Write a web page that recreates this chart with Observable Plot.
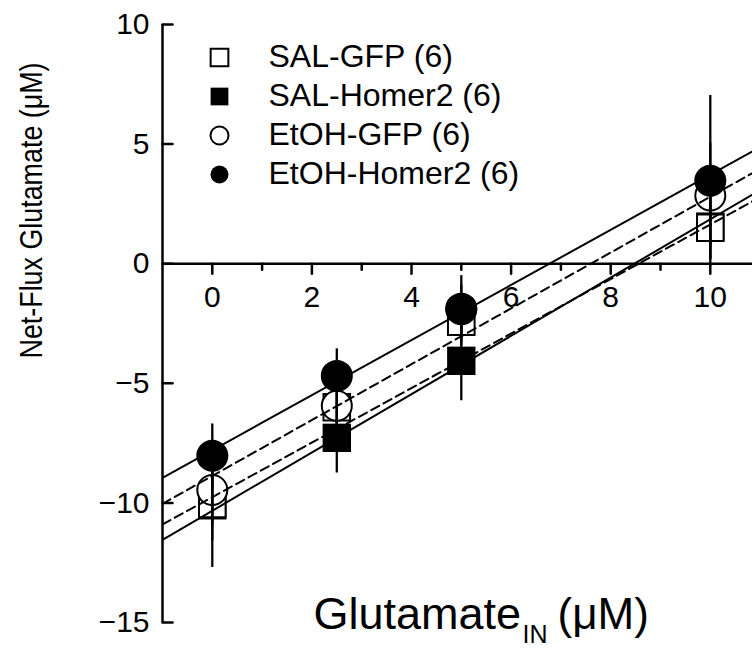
<!DOCTYPE html>
<html><head><meta charset="utf-8">
<script src="https://cdn.jsdelivr.net/npm/d3@7"></script>
<script src="https://cdn.jsdelivr.net/npm/@observablehq/plot@0.6"></script>
<style>body{margin:0;background:#fff}</style>
</head><body><div id="chart"></div>
<script>
// ---- data ----
const glutamateIn = [0, 2.5, 5, 10];
const seriesNames = ["SAL-GFP", "SAL-Homer2", "EtOH-GFP", "EtOH-Homer2"];
const seriesN = [6, 6, 6, 6];
const salGfp = [-10.04, -6.0, -2.43, 1.5];
const salGfpSE = [2.66, 1.2, 1.0, 1.3];
const salHomer2 = [-10.1, -7.28, -4.06, 1.55];
const salHomer2SE = [1.5, 1.47, 1.67, 1.4];
const etohGfp = [-9.46, -5.94, -1.9, 2.85];
const etohGfpSE = [1.5, 1.0, 1.0, 2.2];
const etohHomer2 = [-8.03, -4.69, -1.88, 3.47];
const etohHomer2SE = [1.33, 1.13, 1.38, 3.56];
const fitIntercept = [-9.76, -10.33, -8.87, -7.80];
const fitSlope = [1.14, 1.219, 1.167, 1.152];
const yTicks = [-15, -10, -5, 0, 5, 10];
const xTicksMajor = [0, 2, 4, 6, 8, 10];
const xTicksMinor = [1, 3, 5, 7, 9, 11];
const xDomain = [-1, 11];
const yDomain = [-15, 10];
const xAxisAt = 0;

// ---- build tables ----
const values = [salGfp, salHomer2, etohGfp, etohHomer2];
const ses = [salGfpSE, salHomer2SE, etohGfpSE, etohHomer2SE];
const styles = {
  "SAL-GFP": {symbol: "square", fill: "white", dash: "9,5"},
  "SAL-Homer2": {symbol: "square", fill: "black", dash: null},
  "EtOH-GFP": {symbol: "circle", fill: "white", dash: "9,5"},
  "EtOH-Homer2": {symbol: "circle", fill: "black", dash: null}
};
const points = [];
seriesNames.forEach((s, i) => glutamateIn.forEach((x, j) => points.push({series: s, x, y: values[i][j], se: ses[i][j]})));
const drawOrder = ["SAL-Homer2", "SAL-GFP", "EtOH-GFP", "EtOH-Homer2"];

const tickShape = {draw(context, l) { context.moveTo(0, 0); context.lineTo(0, -l); }};
const font = "'Liberation Sans', Arial, sans-serif";
const narrowFont = "'Liberation Sans Narrow', 'Arial Narrow', 'Liberation Sans', Arial, sans-serif";
const fmt = d => String(d).replace("-", "\u2212");
const yTitle = "Net-Flux Glutamate (\u03BCM)";

const marks = [];
// axes lines
marks.push(Plot.ruleX([xDomain[0]], {y1: yDomain[0], y2: yDomain[1], strokeWidth: 2.5}));
marks.push(Plot.ruleY([xAxisAt], {x1: xDomain[0], x2: xDomain[1], strokeWidth: 2.5, clip: true}));
// y ticks (inward) and labels
marks.push(Plot.vector(yTicks, {x: xDomain[0], y: d => d, length: 10, rotate: 90, anchor: "start", shape: tickShape, strokeWidth: 2.5}));
marks.push(Plot.text(yTicks, {frameAnchor: "left", y: d => d, text: fmt, textAnchor: "end", lineAnchor: "middle", dx: -13, fontSize: 30}));
// x ticks and labels
marks.push(Plot.vector(xTicksMajor, {x: d => d, y: xAxisAt, length: 10, rotate: 180, anchor: "start", shape: tickShape, strokeWidth: 2.5}));
marks.push(Plot.vector(xTicksMinor, {x: d => d, y: xAxisAt, length: 6, rotate: 180, anchor: "start", shape: tickShape, strokeWidth: 2.5, clip: true}));
marks.push(Plot.text(xTicksMajor, {x: d => d, y: xAxisAt, text: fmt, lineAnchor: "top", dy: 22, fontSize: 30}));

// symbols
for (const s of drawOrder) {
  const st = styles[s];
  const data = points.filter(p => p.series === s);
  marks.push(Plot.dot(data, {x: "x", y: "y", symbol: st.symbol, r: st.fill === "black" ? 16 : 15, fill: st.fill, stroke: "black", strokeWidth: st.fill === "black" ? 0 : 2}));
}
// error bars
marks.push(Plot.ruleX(points, {x: "x", y1: d => d.y - d.se, y2: d => d.y + d.se, strokeWidth: 2.3}));
// regression lines
seriesNames.forEach((s, i) => {
  const line = xDomain.map(x => ({x, y: fitIntercept[i] + fitSlope[i] * x}));
  marks.push(Plot.line(line, {x: "x", y: "y", stroke: "black", strokeWidth: 2, strokeDasharray: styles[s].dash, clip: true}));
});

// legend
seriesNames.forEach((s, i) => {
  const st = styles[s];
  marks.push(Plot.dot([s], {x: null, y: null, frameAnchor: "top-left", dx: 57, dy: 33 + i * 39, symbol: st.symbol,
    r: st.symbol === "square" ? 10 : 9, fill: st.fill, stroke: "black", strokeWidth: st.fill === "black" ? 0 : 2}));
  marks.push(Plot.text([`${s} (${seriesN[i]})`], {frameAnchor: "top-left", dx: 106, dy: 32 + i * 39, text: d => d,
    textAnchor: "start", lineAnchor: "middle", fontSize: 32}));
});

// axis titles
marks.push(Plot.text(["Glutamate"], {frameAnchor: "bottom-left", dx: 151, dy: 6, text: d => d, textAnchor: "start", lineAnchor: "bottom", fontSize: 45}));
marks.push(Plot.text(["IN"], {frameAnchor: "bottom-left", dx: 360, dy: 20, text: d => d, textAnchor: "start", lineAnchor: "bottom", fontSize: 25}));
marks.push(Plot.text(["(\u03BCM)"], {frameAnchor: "bottom-left", dx: 395, dy: 6, text: d => d, textAnchor: "start", lineAnchor: "bottom", fontSize: 44}));
marks.push(Plot.text([yTitle], {frameAnchor: "left", dx: -121, dy: -113, text: d => d, rotate: -90, textAnchor: "middle", lineAnchor: "bottom", fontSize: 32, fontFamily: narrowFont}));

const chart = Plot.plot({
  width: 752, height: 649,
  marginLeft: 162, marginRight: 0, marginTop: 24, marginBottom: 27,
  x: {domain: xDomain, range: [162, 759.6], axis: null},
  y: {domain: yDomain, range: [622, 24], axis: null},
  style: {fontFamily: font, background: "white", color: "black", overflow: "hidden"},
  marks
});
// keep the vertical title at the reference's length
d3.select(chart).selectAll("text").filter(function() { return this.textContent === yTitle; })
  .attr("textLength", 296).attr("lengthAdjust", "spacingAndGlyphs");
document.getElementById("chart").append(chart);
</script></body></html>
